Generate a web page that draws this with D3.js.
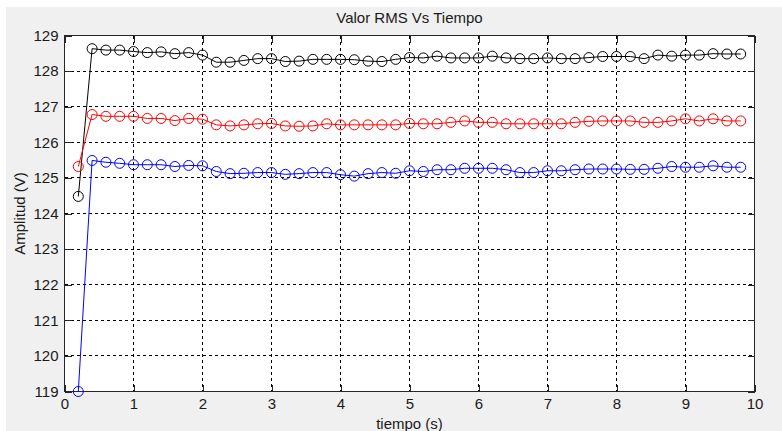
<!DOCTYPE html>
<html>
<head>
<meta charset="utf-8">
<script src="https://cdn.jsdelivr.net/npm/d3@7"></script>
<style>
  body { margin: 0; background: #f0f0f0; }
  svg { display: block; }
  text { font-family: "Liberation Sans", Arial, sans-serif; fill: #1a1a1a; }
</style>
</head>
<body>
<svg id="chart" width="782" height="431"></svg>
<script>
// tiempo (s)
var tiempo = [0.2, 0.4, 0.6, 0.8, 1.0, 1.2, 1.4, 1.6, 1.8, 2.0,
              2.2, 2.4, 2.6, 2.8, 3.0, 3.2, 3.4, 3.6, 3.8, 4.0,
              4.2, 4.4, 4.6, 4.8, 5.0, 5.2, 5.4, 5.6, 5.8, 6.0,
              6.2, 6.4, 6.6, 6.8, 7.0, 7.2, 7.4, 7.6, 7.8, 8.0,
              8.2, 8.4, 8.6, 8.8, 9.0, 9.2, 9.4, 9.6, 9.8];

var serieNegra = [124.48, 128.63, 128.59, 128.59, 128.55, 128.52, 128.54, 128.49, 128.52, 128.45,
                  128.25, 128.25, 128.30, 128.35, 128.35, 128.27, 128.28, 128.33, 128.33, 128.33,
                  128.32, 128.28, 128.27, 128.33, 128.38, 128.37, 128.42, 128.37, 128.37, 128.37,
                  128.42, 128.37, 128.35, 128.35, 128.37, 128.35, 128.35, 128.38, 128.41, 128.41,
                  128.41, 128.35, 128.45, 128.42, 128.45, 128.45, 128.49, 128.48, 128.48];

var serieRoja = [125.32, 126.78, 126.73, 126.73, 126.73, 126.67, 126.67, 126.61, 126.67, 126.65,
                 126.49, 126.46, 126.49, 126.52, 126.53, 126.46, 126.45, 126.46, 126.52, 126.49,
                 126.49, 126.49, 126.49, 126.49, 126.53, 126.52, 126.52, 126.56, 126.60, 126.56,
                 126.56, 126.52, 126.52, 126.52, 126.52, 126.52, 126.56, 126.59, 126.60, 126.60,
                 126.60, 126.56, 126.56, 126.60, 126.66, 126.60, 126.66, 126.60, 126.60];

var serieAzul = [119.00, 125.49, 125.44, 125.41, 125.37, 125.37, 125.37, 125.32, 125.35, 125.34,
                 125.18, 125.12, 125.13, 125.15, 125.15, 125.10, 125.12, 125.15, 125.15, 125.09,
                 125.05, 125.12, 125.15, 125.13, 125.20, 125.18, 125.23, 125.23, 125.27, 125.27,
                 125.27, 125.23, 125.15, 125.15, 125.20, 125.20, 125.23, 125.25, 125.25, 125.25,
                 125.24, 125.24, 125.27, 125.32, 125.30, 125.30, 125.34, 125.30, 125.30];

var xTicks = [0, 1, 2, 3, 4, 5, 6, 7, 8, 9, 10];
var yTicks = [119, 120, 121, 122, 123, 124, 125, 126, 127, 128, 129];

var series = [
    {name: 'negra', color: '#000000', values: serieNegra},
    {name: 'roja', color: '#ff0000', values: serieRoja},
    {name: 'azul', color: '#0000ff', values: serieAzul}
];

var svg = d3.select('#chart');

// white strip on top / left like the screenshot
svg.append('rect').attr('x', 0).attr('y', 0).attr('width', 782).attr('height', 7).attr('fill', '#fff');
svg.append('rect').attr('x', 0).attr('y', 0).attr('width', 6).attr('height', 431).attr('fill', '#fff');

var x = d3.scaleLinear().domain([0, 10]).range([64.5, 754.5]);
var y = d3.scaleLinear().domain([119, 129]).range([391.5, 35.5]);

svg.append('rect')
    .attr('x', x(0)).attr('y', y(129))
    .attr('width', x(10) - x(0)).attr('height', y(119) - y(129))
    .attr('fill', '#fff');

// grid
var grid = svg.append('g').attr('stroke', '#000').attr('stroke-width', 1)
    .attr('stroke-dasharray', '3,3').attr('shape-rendering', 'crispEdges');
grid.selectAll('.gx').data(xTicks.slice(1, -1)).enter().append('line')
    .attr('x1', function(d) { return x(d); }).attr('x2', function(d) { return x(d); })
    .attr('y1', y(129)).attr('y2', y(119));
grid.selectAll('.gy').data(yTicks.slice(1, -1)).enter().append('line')
    .attr('y1', function(d) { return y(d); }).attr('y2', function(d) { return y(d); })
    .attr('x1', x(0)).attr('x2', x(10));

// axes (ticks pointing in, MATLAB style)
var tick = 7;
var fmt = d3.format('d');
var axB = svg.append('g').attr('transform', 'translate(0,' + y(119) + ')')
    .call(d3.axisBottom(x).tickValues(xTicks).tickSize(-tick).tickPadding(7).tickFormat(fmt));
var axT = svg.append('g').attr('transform', 'translate(0,' + y(129) + ')')
    .call(d3.axisTop(x).tickValues(xTicks).tickSize(-tick).tickFormat(''));
var axL = svg.append('g').attr('transform', 'translate(' + x(0) + ',0)')
    .call(d3.axisLeft(y).tickValues(yTicks).tickSize(-tick).tickPadding(6).tickFormat(fmt));
var axR = svg.append('g').attr('transform', 'translate(' + x(10) + ',0)')
    .call(d3.axisRight(y).tickValues(yTicks).tickSize(-tick).tickFormat(''));

[axB, axT, axL, axR].forEach(function(a) {
    a.select('.domain').remove();
    a.selectAll('line').attr('stroke', '#262626').attr('shape-rendering', 'crispEdges');
    a.selectAll('text').style('font-size', '15px').attr('fill', '#1a1a1a');
});

svg.append('rect')
    .attr('x', x(0)).attr('y', y(129))
    .attr('width', x(10) - x(0)).attr('height', y(119) - y(129))
    .attr('fill', 'none').attr('stroke', '#262626').attr('shape-rendering', 'crispEdges');

// series
var line = d3.line()
    .x(function(d) { return x(d[0]); })
    .y(function(d) { return y(d[1]); });

series.forEach(function(s) {
    var pts = tiempo.map(function(t, i) { return [t, s.values[i]]; });
    var g = svg.append('g').attr('class', 'serie-' + s.name);
    g.append('path').datum(pts)
        .attr('d', line)
        .attr('fill', 'none')
        .attr('stroke', s.color)
        .attr('stroke-width', 1);
    g.selectAll('circle').data(pts).enter().append('circle')
        .attr('cx', function(d) { return x(d[0]); })
        .attr('cy', function(d) { return y(d[1]); })
        .attr('r', 5)
        .attr('fill', 'none')
        .attr('stroke', s.color)
        .attr('stroke-width', 1);
});

// labels
svg.append('text')
    .attr('x', (x(0) + x(10)) / 2).attr('y', 22.5)
    .attr('text-anchor', 'middle')
    .style('font-size', '15px')
    .text('Valor RMS Vs Tiempo');

svg.append('text')
    .attr('x', (x(0) + x(10)) / 2).attr('y', 429)
    .attr('text-anchor', 'middle')
    .style('font-size', '15px')
    .text('tiempo (s)');

svg.append('text')
    .attr('transform', 'translate(25,' + (y(119) + y(129)) / 2 + ') rotate(-90)')
    .attr('text-anchor', 'middle')
    .style('font-size', '15px')
    .text('Amplitud (V)');
</script>
</body>
</html>
